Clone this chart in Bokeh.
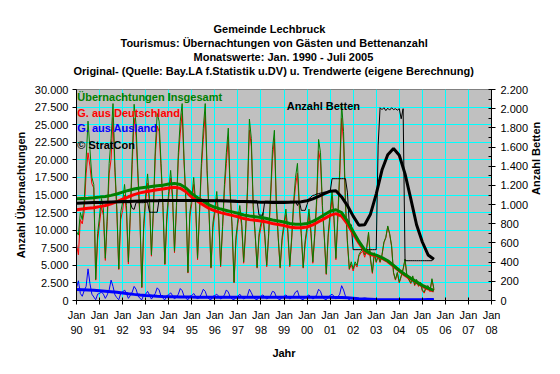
import math
from bokeh.plotting import figure
from bokeh.models import Range1d, LinearAxis, FixedTicker, Label, Title
from bokeh.embed import file_html
from bokeh.resources import INLINE

# ---------------- data (monthly, Jan 1990 - Jul 2005) ----------------
total = [
    9800, 9300, 12500, 11500, 14000, 20000, 25500, 21500, 17500, 16500, 3000, 9500,      # 1990
    12000, 14500, 13000, 6000, 12000, 19500, 23000, 28000, 19000, 13000, 4500, 12500,    # 1991
    14000, 16500, 13500, 5500, 12500, 20500, 27900, 25000, 18000, 12000, 1900, 11000,    # 1992
    15000, 18000, 14500, 6500, 13000, 21500, 26600, 25500, 19500, 13500, 5200, 12000,    # 1993
    15500, 18500, 15000, 7000, 13500, 21000, 25500, 28000, 20000, 14000, 4000, 12500,    # 1994
    14500, 17500, 14000, 6000, 12500, 19500, 24500, 28000, 18500, 12500, 4700, 11000,    # 1995
    13000, 15500, 12000, 5000, 10500, 16500, 21000, 24500, 15500, 10500, 2600, 9000,     # 1996
    11500, 13500, 11000, 5500, 10000, 16000, 25800, 23000, 13500, 9500, 4700, 9500,      # 1997
    11000, 12500, 9500, 5000, 9500, 15000, 21500, 24200, 14000, 9000, 4700, 9000,        # 1998
    11000, 13000, 10000, 5000, 9000, 14000, 17500, 19500, 13500, 9500, 4700, 8500,       # 1999
    10500, 13000, 10000, 5500, 9500, 14500, 22900, 21000, 13500, 9000, 3800, 9500,       # 2000
    12500, 15500, 12000, 6000, 12000, 18500, 28000, 24000, 14000, 8500, 4500, 5500,      # 2001
    4500, 5500, 5000, 6500, 7000, 7300, 6500, 7500, 9700, 6000, 4000, 6800,              # 2002
    5500, 6400, 5500, 6500, 8300, 9000, 10600, 9500, 7800, 4000, 3000, 4000,             # 2003
    2600, 3500, 4500, 5900, 3500, 3000, 2500, 3500, 2200, 3000, 2100, 2600,              # 2004
    1500, 1200, 2000, 2100, 1400, 3100, 1700,                                            # 2005
]
germany = [
    8000, 6500, 11500, 10900, 12600, 18000, 21000, 19100, 16600, 16000, 2900, 8600,
    11000, 13300, 12100, 5700, 11200, 18000, 20100, 26000, 18200, 12600, 4400, 11500,
    12800, 15000, 12500, 5200, 11800, 19300, 25900, 23400, 17300, 11700, 1800, 10200,
    14100, 16700, 13700, 6300, 12400, 20500, 24800, 24000, 18900, 13200, 5100, 11300,
    14700, 17400, 14300, 6800, 13000, 20100, 23800, 26600, 19400, 13700, 3900, 11900,
    13800, 16500, 13400, 5800, 12000, 18600, 22900, 26700, 18000, 12300, 4600, 10400,
    12300, 14600, 11400, 4800, 10100, 15700, 19500, 23300, 15000, 10300, 2500, 8500,
    10900, 12600, 10500, 5300, 9600, 15300, 24200, 21900, 13000, 9300, 4600, 9000,
    10400, 11700, 9000, 4800, 9100, 14300, 20200, 23000, 13500, 8800, 4600, 8500,
    10400, 12200, 9500, 4800, 8600, 13300, 16300, 18100, 13000, 9300, 4600, 8000,
    9900, 12200, 9500, 5300, 9100, 13700, 21300, 19700, 13000, 8800, 3700, 9000,
    11800, 14600, 11400, 5800, 11500, 17600, 25900, 22500, 13400, 8200, 4400, 5100,
    4200, 5200, 4750, 6300, 6750, 7000, 6150, 7200, 9450, 5800, 3850, 6600,
    5400, 6300, 5400, 6400, 8200, 8900, 10500, 9400, 7700, 3900, 2900, 3900,
    2500, 3400, 4400, 5800, 3400, 2900, 2400, 3400, 2100, 2900, 2000, 2500,
    1350, 1050, 1850, 1950, 1250, 2950, 1550,
]
abroad = [
    1800, 2800, 1000, 600, 1400, 2000, 4500, 2400, 900, 500, 100, 900,
    1000, 1200, 900, 300, 800, 1500, 2900, 2000, 800, 400, 100, 1000,
    1200, 1500, 1000, 300, 700, 1200, 2000, 1600, 700, 300, 100, 800,
    900, 1300, 800, 200, 600, 1000, 1800, 1500, 600, 300, 100, 700,
    800, 1100, 700, 200, 500, 900, 1700, 1400, 600, 300, 100, 600,
    700, 1000, 600, 200, 500, 900, 1600, 1300, 500, 200, 100, 600,
    700, 900, 600, 200, 400, 800, 1500, 1200, 500, 200, 100, 500,
    600, 900, 500, 200, 400, 700, 1600, 1100, 500, 200, 100, 500,
    600, 800, 500, 200, 400, 700, 1300, 1200, 500, 200, 100, 500,
    600, 800, 500, 200, 400, 700, 1200, 1400, 500, 200, 100, 500,
    600, 800, 500, 200, 400, 800, 1600, 1300, 500, 200, 100, 500,
    700, 900, 600, 200, 500, 900, 2100, 1500, 600, 300, 100, 400,
    300, 300, 250, 200, 250, 300, 350, 300, 250, 200, 150, 200,
    100, 100, 100, 100, 100, 100, 100, 100, 100, 100, 100, 100,
    100, 100, 100, 100, 100, 100, 100, 100, 100, 100, 100, 100,
    150, 150, 150, 150, 150, 150, 150,
]
beds = [
    1020, 1020, 1020, 1020, 1020, 1020, 1020, 1020, 1020, 1020, 1020, 1020,
    1020, 1020, 1020, 1020, 1020, 1020, 1020, 1020, 1020, 1020, 1020, 1020,
    1020, 1020, 1020, 1020, 1020, 960, 950, 1020, 1020, 1020, 1020, 1020,
    1025, 1025, 920, 920, 920, 920, 920, 1055, 1050, 1050, 1045, 1045,
    1045, 1045, 1045, 1045, 1045, 1045, 1045, 1045, 1045, 1045, 1045, 1045,
    1045, 1045, 1045, 1045, 1045, 1045, 1045, 1045, 1045, 1045, 1045, 1045,
    1045, 1045, 1045, 1045, 1045, 1045, 1045, 1045, 1045, 1045, 1045, 1045,
    1040, 1040, 1040, 1040, 1040, 1040, 1040, 1040, 1040, 1040, 1040, 890,
    890, 890, 1035, 1035, 1035, 1035, 1035, 1035, 1035, 1035, 1035, 1035,
    1035, 1035, 1035, 1035, 1035, 1035, 1035, 990, 1035, 940, 940, 940,
    1000, 1060, 1080, 1095, 1100, 1110, 1115, 1120, 1125, 1130, 1130, 1130,
    1130, 1270, 1270, 1270, 1270, 1270, 1270, 1270, 1270, 1130, 790, 790,
    530, 530, 530, 530, 530, 530, 530, 530, 530, 530, 530, 530,
    530, 1620, 2010, 1990, 2010, 1980, 2005, 1985, 2010, 1990, 2000, 1985,
    2000, 1895, 2000, 415, 415, 415, 415, 415, 415, 415, 415, 415,
    415, 415, 415, 415, 415, 415, 440,
]
# trend values, read every third month (Jan 1990, Apr 1990, ... Jul 2005)
total_trend = [14450, 14500, 14550, 14620, 14700, 14800, 14950, 15150, 15400, 15650, 15850,
               16000, 16100, 16200, 16300, 16400, 16550, 16650, 16500, 16000, 15200, 14600,
               14100, 13600, 13250, 13000, 12800, 12600, 12400, 12150, 12000, 11900, 11800,
               11650, 11450, 11300, 11150, 10950, 10850, 10850, 10950, 11250, 11700, 12200,
               12700, 12900, 12500, 11300, 9800, 8400, 7200, 6700, 6450, 6100, 5650, 5000,
               4300, 3700, 3150, 2650, 2150, 1750, 1450]
germany_trend = [12900, 13000, 13100, 13200, 13350, 13500, 13750, 14050, 14400, 14750, 15050,
                 15300, 15450, 15600, 15750, 15850, 16000, 16100, 15950, 15450, 14700, 14100,
                 13600, 13100, 12750, 12500, 12300, 12100, 11900, 11650, 11500, 11400, 11300,
                 11150, 10950, 10800, 10650, 10450, 10350, 10350, 10450, 10750, 11200, 11650,
                 12100, 12350, 12000, 10900, 9500, 8200, 7000, 6550, 6350, 6000, 5550, 4900,
                 4200, 3600, 3050, 2550, 2050, 1650, 1350]
abroad_trend = [1560, 1530, 1490, 1450, 1400, 1330, 1250, 1160, 1060, 960, 870, 790, 720, 660,
                610, 570, 540, 520, 500, 490, 480, 475, 470, 465, 460, 455, 450, 450, 450, 450,
                450, 450, 450, 450, 450, 450, 450, 450, 450, 450, 450, 450, 450, 450, 450, 440,
                420, 380, 320, 260, 220, 180, 130, 110, 100, 100, 100, 100, 100, 110, 120, 130,
                140]
beds_trend = [1015, 1017, 1019, 1021, 1023, 1025, 1027, 1029, 1031, 1033, 1035, 1037, 1039,
              1040, 1041, 1042, 1043, 1043, 1043, 1043, 1043, 1043, 1042, 1041, 1040, 1039,
              1037, 1035, 1033, 1031, 1029, 1027, 1025, 1024, 1023, 1023, 1023, 1024, 1026,
              1030, 1040, 1060, 1085, 1115, 1140, 1145, 1080, 990, 880, 785, 790, 900, 1110,
              1360, 1520, 1585, 1515, 1320, 1060, 790, 610, 475, 430]

year_labels = ["90", "91", "92", "93", "94", "95", "96", "97", "98", "99",
               "00", "01", "02", "03", "04", "05", "06", "07", "08"]
left_ticks = [0, 2500, 5000, 7500, 10000, 12500, 15000, 17500, 20000, 22500, 25000, 27500, 30000]
left_labels = ["0", "2.500", "5.000", "7.500", "10.000", "12.500", "15.000", "17.500",
               "20.000", "22.500", "25.000", "27.500", "30.000"]
right_ticks = [0, 200, 400, 600, 800, 1000, 1200, 1400, 1600, 1800, 2000, 2200]
right_labels = ["0", "200", "400", "600", "800", "1.000", "1.200", "1.400", "1.600",
                "1.800", "2.000", "2.200"]
title_lines = ["Gemeinde Lechbruck",
               "Tourismus: Übernachtungen von Gästen und Bettenanzahl",
               "Monatswerte: Jan. 1990 - Juli 2005",
               "Original- (Quelle: Bay.LA f.Statistik u.DV) u. Trendwerte (eigene Berechnung)"]

months = list(range(len(total)))
trend_months = [3 * i for i in range(len(total_trend))]
year_ticks = [12 * i for i in range(len(year_labels))]

FONT = "Liberation Sans"
GREEN = "#008000"

p = figure(width=552, height=366, output_backend="svg", toolbar_location=None,
           x_range=Range1d(0, 216), y_range=Range1d(0, 30000),
           min_border_left=76, min_border_right=61, min_border_top=89, min_border_bottom=66,
           background_fill_color="#C0C0C0", border_fill_color="white",
           outline_line_color="#808080", outline_line_width=1)
p.extra_y_ranges = {"beds": Range1d(0, 2200)}

# small spacer between plot area and the title block
p.add_layout(Title(text=" ", text_font=FONT, text_font_size="6px", standoff=5), "above")
# titles: added bottom line first so that they stack upward
title_offsets = [137, 44, 117, -3]
for txt, off in reversed(list(zip(title_lines, title_offsets))):
    p.add_layout(Title(text=txt, align="left", offset=off, standoff=0,
                       text_font=FONT, text_font_size="11px", text_font_style="bold",
                       text_color="black"), "above")

# axes
xa = p.xaxis[0]
xa.ticker = FixedTicker(ticks=year_ticks)
xa.major_label_overrides = {t: "Jan\n" + l for t, l in zip(year_ticks, year_labels)}
ya = p.yaxis[0]
ya.ticker = FixedTicker(ticks=left_ticks)
ya.major_label_overrides = {t: l for t, l in zip(left_ticks, left_labels)}
ra = LinearAxis(y_range_name="beds", ticker=FixedTicker(ticks=right_ticks,
                minor_ticks=[100 + 200 * i for i in range(11)]))
ra.major_label_overrides = {t: l for t, l in zip(right_ticks, right_labels)}
p.add_layout(ra, "right")

for ax in (xa, ya, ra):
    ax.axis_line_color = "black"
    ax.axis_line_width = 1
    ax.major_tick_line_color = "black"
    ax.minor_tick_line_color = "black"
    ax.major_label_text_font = FONT
    ax.major_label_text_font_size = "11px"
    ax.major_label_text_color = "black"
    ax.major_tick_out = 4
    ax.major_tick_in = 3
    ax.minor_tick_out = 0
    ax.minor_tick_in = 0
    ax.major_label_standoff = 4
    ax.axis_label_text_font = FONT
    ax.axis_label_text_font_size = "11px"
    ax.axis_label_text_font_style = "bold"
    ax.axis_label_text_color = "black"
ya.major_tick_in = 0
ra.minor_tick_in = 3
ra.major_label_standoff = 5
xa.major_label_text_line_height = 1.25

xa.axis_label = "Jahr"
xa.axis_label_standoff = 8
ya.axis_label = "Anzahl Übernachtungen"
ya.axis_label_standoff = 5
ra.axis_label = "Anzahl Betten"
ra.axis_label_standoff = 5
try:
    ra.axis_label_orientation = math.pi / 2
except Exception:
    pass

p.xgrid.ticker = FixedTicker(ticks=year_ticks)
p.ygrid.ticker = FixedTicker(ticks=left_ticks)
for g in (p.xgrid[0], p.ygrid[0]):
    g.grid_line_color = "#00FFFF"
    g.grid_line_width = 1
    g.grid_line_alpha = 1

# monthly values
p.line(months, germany, line_color="#FF0000", line_width=1)
p.line(months, total, line_color=GREEN, line_width=1)
p.line(months, abroad, line_color="#0000FF", line_width=1)
p.line(months, beds, line_color="black", line_width=1, y_range_name="beds")
# trends
p.line(trend_months, germany_trend, line_color="#FF0000", line_width=3)
p.line(trend_months, total_trend, line_color=GREEN, line_width=3)
p.line(trend_months, abroad_trend, line_color="#0000FF", line_width=3)
p.line(trend_months, beds_trend, line_color="black", line_width=3, y_range_name="beds")


def lab(x, y, text, color="black"):
    p.add_layout(Label(x=x, y=y, text=text, text_font=FONT, text_font_size="11px",
                       text_font_style="bold", text_color=color, text_align="left",
                       text_baseline="middle"))


# series captions inside the plot
lab(0.4, 29000, "Übernachtungen Insgesamt", GREEN)
lab(0.4, 26690, "G. aus Deutschland", "#FF0000")
lab(0.4, 24500, "G. aus Ausland", "#0000FF")
lab(0.4, 22040, "© StratCon", "black")
lab(109.4, 27630, "Anzahl Betten", "black")

open("out.html", "w").write(file_html(p, INLINE))
